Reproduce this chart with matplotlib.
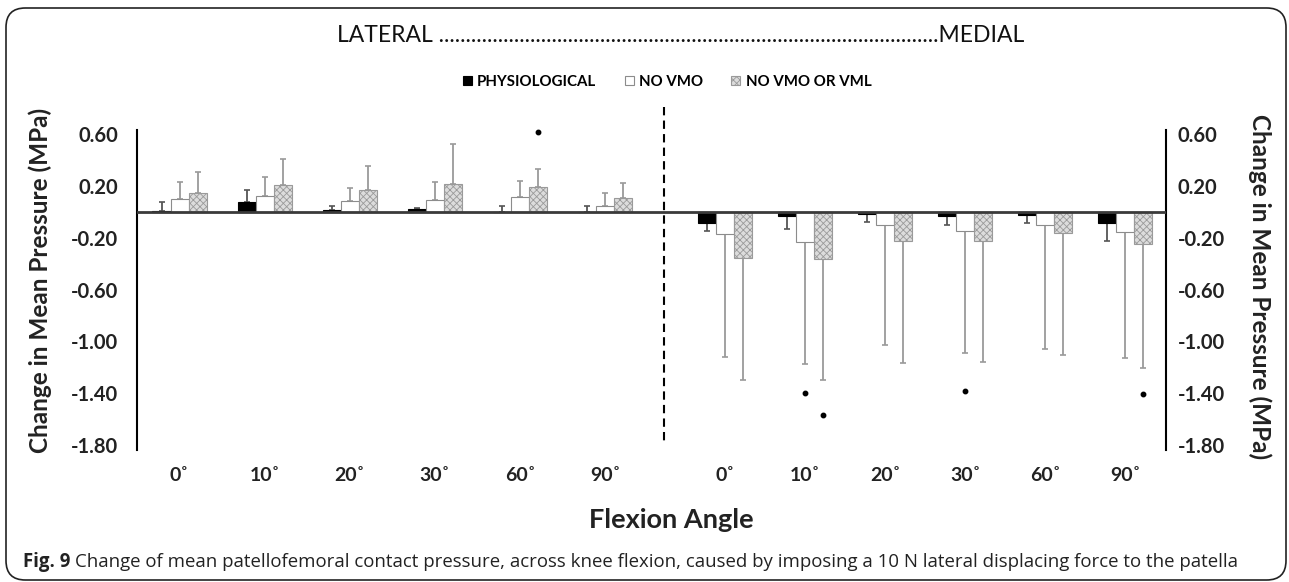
import matplotlib
matplotlib.use("Agg")
import matplotlib.pyplot as plt
import numpy as np
from matplotlib.patches import Patch, FancyBboxPatch
from matplotlib.lines import Line2D

# ---------------- data ----------------
angles = ["0˚", "10˚", "20˚", "30˚", "60˚", "90˚"]
series = ["PHYSIOLOGICAL", "NO VMO", "NO VMO OR VML"]

# Lateral side (mean change, MPa) and one-sided SD
lat_phys = [0.005, 0.075, 0.015, 0.022, 0.004, 0.004]
lat_phys_err = [0.070, 0.093, 0.035, 0.012, 0.042, 0.042]
lat_novmo = [0.103, 0.121, 0.082, 0.093, 0.113, 0.044]
lat_novmo_err = [0.127, 0.149, 0.104, 0.139, 0.124, 0.106]
lat_novml = [0.147, 0.211, 0.173, 0.214, 0.191, 0.111]
lat_novml_err = [0.163, 0.199, 0.180, 0.314, 0.139, 0.116]

# Medial side
med_phys = [-0.082, -0.031, -0.015, -0.031, -0.026, -0.085]
med_phys_err = [0.065, 0.098, 0.062, 0.067, 0.059, 0.139]
med_novmo = [-0.173, -0.229, -0.098, -0.147, -0.103, -0.155]
med_novmo_err = [0.945, 0.948, 0.932, 0.943, 0.953, 0.973]
med_novml = [-0.353, -0.366, -0.224, -0.224, -0.162, -0.245]
med_novml_err = [0.945, 0.934, 0.941, 0.936, 0.946, 0.961]

# Outliers: angle index, series index, value
lat_outlier_angle = [4]
lat_outlier_series = [2]
lat_outlier_value = [0.62]
med_outlier_angle = [1, 1, 3, 5]
med_outlier_series = [1, 2, 1, 2]
med_outlier_value = [-1.40, -1.57, -1.38, -1.41]

yticks = [0.60, 0.20, -0.20, -0.60, -1.00, -1.40, -1.80]

# ---------------- figure ----------------
W, H = 1289, 582
fig = plt.figure(figsize=(W / 100, H / 100), dpi=100)
plt.rcParams['hatch.linewidth'] = 0.6
plt.rcParams['hatch.color'] = '#a8a8a8'

def fx(px):
    return px / W

def fy(py):
    return 1 - py / H

FONT = ['Lato', 'DejaVu Sans']
TXT = '#222222'

ax_top, ax_bot = 130, 450
ylim = (-1.839, 0.634)
axL = fig.add_axes([fx(137), fy(ax_bot), fx(664 - 137), (ax_bot - ax_top) / H])
axR = fig.add_axes([fx(664), fy(ax_bot), fx(1166 - 664), (ax_bot - ax_top) / H])

face = ['black', 'white', '#dcdcdc']
edge = ['black', '#8c8c8c', '#9a9a9a']
hatch = [None, None, 'xxxxx']
ecol = ['#555555', '#9a9a9a', '#9a9a9a']


def draw(ax, means, errs, bw, positive, xl, out_a, out_s, out_v):
    x = np.arange(len(angles))
    for i, (m, e) in enumerate(zip(means, errs)):
        xi = x + (i - 1) * bw
        e = np.array(e)
        yerr = [np.zeros_like(e), e] if positive else [e, np.zeros_like(e)]
        ax.errorbar(xi, m, yerr=yerr, fmt='none', ecolor=ecol[i], elinewidth=1.3,
                    capsize=2, capthick=1.2, zorder=2)
        ax.bar(xi, m, width=bw, color=face[i], edgecolor=edge[i], linewidth=0.8,
               hatch=hatch[i], zorder=3)
    for a, s, v in zip(out_a, out_s, out_v):
        ax.plot(a + (s - 1) * bw, v, 'o', ms=3.2, color='black', zorder=4, clip_on=False)
    ax.axhline(0, color='#3a3a3a', lw=2.0, zorder=5)
    ax.set_xlim(*xl)
    ax.set_ylim(*ylim)
    ax.set_xticks(x)
    ax.set_xticklabels(angles, fontsize=14, fontweight='bold', family=FONT, color=TXT)
    ax.tick_params(axis='x', length=0, pad=12)
    ax.set_yticks(yticks)
    ax.set_yticklabels([f"{t:.2f}" for t in yticks], fontsize=14.5, fontweight='bold',
                       family=FONT, color=TXT)
    for sp in ax.spines.values():
        sp.set_visible(False)
    ax.patch.set_alpha(0)


draw(axL, [lat_phys, lat_novmo, lat_novml], [lat_phys_err, lat_novmo_err, lat_novml_err],
     0.212, True, (-0.5, 5.69), lat_outlier_angle, lat_outlier_series, lat_outlier_value)
draw(axR, [med_phys, med_novmo, med_novml], [med_phys_err, med_novmo_err, med_novml_err],
     0.225, False, (-0.765, 5.51), med_outlier_angle, med_outlier_series, med_outlier_value)

axL.spines['left'].set_visible(True)
axL.spines['left'].set_linewidth(1.5)
axL.tick_params(axis='y', length=0, pad=13.5)
axR.spines['right'].set_visible(True)
axR.spines['right'].set_linewidth(1.5)
axR.yaxis.tick_right()
axR.tick_params(axis='y', length=0, pad=8.5)

# axis labels
fig.text(fx(40), fy(280), "Change in Mean Pressure (MPa)", rotation=90, ha='center',
         va='center', fontsize=17.5, fontweight='bold', family=FONT, color=TXT)
fig.text(fx(1260), fy(287), "Change in Mean Pressure (MPa)", rotation=270, ha='center',
         va='center', fontsize=17.5, fontweight='bold', family=FONT, color=TXT)
fig.text(fx(671), fy(520), "Flexion Angle", ha='center', va='center', fontsize=19.5,
         fontweight='bold', family=FONT, color=TXT)

# title
fig.text(fx(681), fy(35), "LATERAL " + "." * 93 + "MEDIAL", ha='center', va='center',
         fontsize=16.5, family=FONT, color='#111111')

# dashed separator
fig.add_artist(Line2D([fx(664), fx(664)], [fy(107), fy(445)], color='black', lw=1.5,
                      dashes=(4, 2.5)))

# legend
handles = [Patch(facecolor=face[i], edgecolor=edge[i], hatch=hatch[i], linewidth=0.8)
           for i in range(3)]
fig.legend(handles, series, loc='center', bbox_to_anchor=(fx(667), fy(82)), ncol=3,
           frameon=False, handlelength=0.6, handleheight=0.6, handletextpad=0.35,
           columnspacing=1.9, prop={'family': FONT, 'weight': 'bold', 'size': 10.8})

# caption
r = fig.canvas.get_renderer()
cap_font = ['Open Sans', 'DejaVu Sans']
t1 = fig.text(fx(23), fy(562), "Fig. 9", ha='left', va='center', fontsize=13.4,
              fontweight='bold', family=cap_font, color=TXT)
bb = t1.get_window_extent(renderer=r)
fig.text(bb.x1 / W + fx(5), fy(562),
         "Change of mean patellofemoral contact pressure, across knee flexion, caused by "
         "imposing a 10 N lateral displacing force to the patella",
         ha='left', va='center', fontsize=13.4, family=cap_font, color=TXT)

# frame
box = FancyBboxPatch((fx(6), fy(580)), fx(1286 - 6), (580 - 8) / H,
                     boxstyle="round,pad=0,rounding_size=0.015",
                     transform=fig.transFigure, fill=False, edgecolor=TXT, lw=1.2,
                     mutation_aspect=W / H)
fig.add_artist(box)

fig.savefig("out.png", dpi=100)
